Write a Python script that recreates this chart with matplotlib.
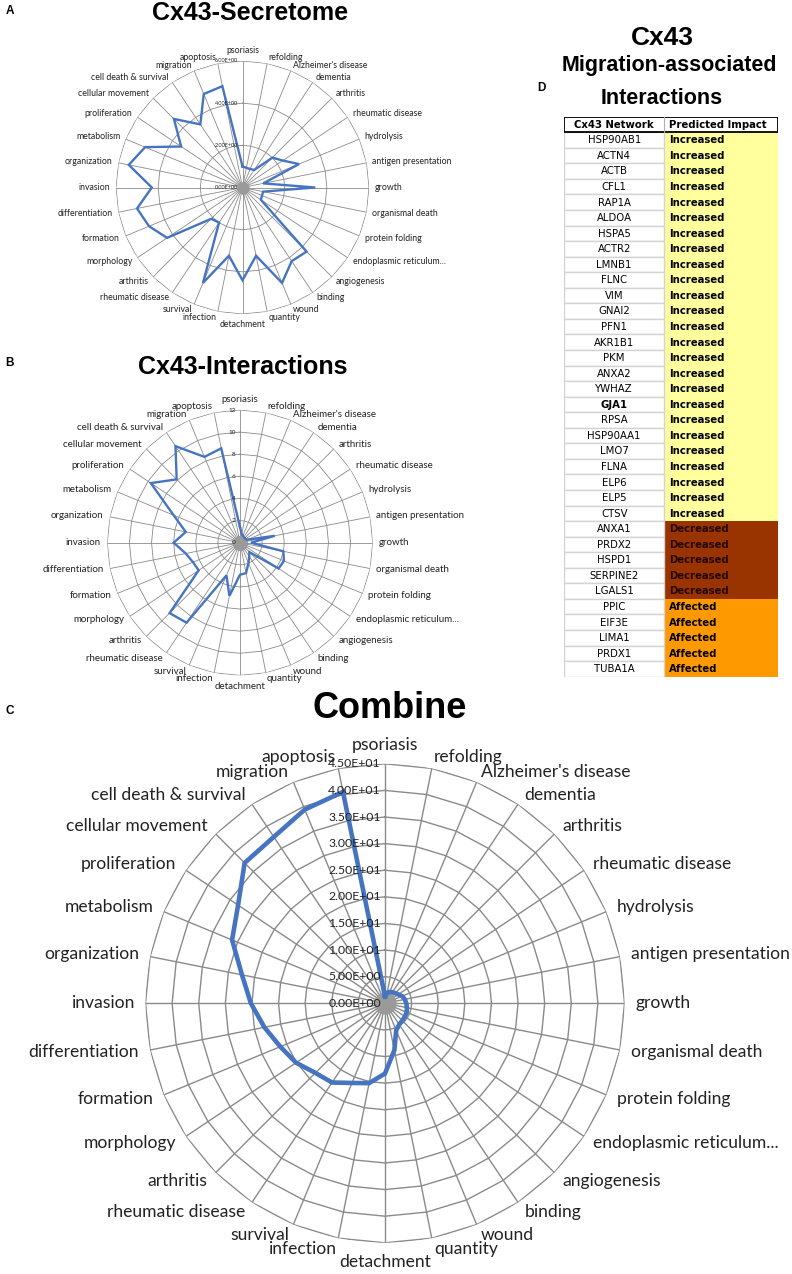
import numpy as np
import matplotlib
matplotlib.use("Agg")
import matplotlib.pyplot as plt
from matplotlib.patches import Rectangle

W, H = 792, 1274

CATEGORIES = ["psoriasis", "refolding", "Alzheimer's disease", "dementia", "arthritis",
              "rheumatic disease", "hydrolysis", "antigen presentation", "growth",
              "organismal death", "protein folding", "endoplasmic reticulum...",
              "angiogenesis", "binding", "wound", "quantity", "detachment", "infection",
              "survival", "rheumatic disease", "arthritis", "morphology", "formation",
              "differentiation", "invasion", "organization", "metabolism", "proliferation",
              "cellular movement", "cell death & survival", "migration", "apoptosis"]

SECRETOME = [1.0, 0.95, 0.95, 1.0, 2.0, 2.3, 2.9, 1.0, 3.45, 1.0, 1.0, 1.05,
             4.3, 4.2, 4.9, 3.3, 4.4, 3.3, 4.9, 2.0, 2.1, 4.3, 4.8, 5.1,
             4.3, 5.5, 5.0, 3.5, 4.6, 3.6, 4.8, 4.9]
INTERACTIONS = [1.4, 0.8, 0.7, 0.6, 0.6, 0.6, 0.7, 3.2, 1.0, 4.0, 4.3, 4.2,
                1.2, 1.5, 2.0, 2.8, 2.9, 4.9, 3.2, 8.7, 9.0, 4.5, 4.6, 5.0,
                6.0, 5.0, 6.5, 9.7, 8.1, 10.5, 8.4, 8.7]
COMBINE = [1.3, 2.0, 2.3, 2.5, 2.7, 3.0, 3.5, 3.8, 4.0, 4.2, 4.4, 4.5,
           4.6, 4.8, 5.5, 9.0, 13.2, 15.3, 16.2, 17.9, 18.5, 20.1, 21.3, 23.1,
           25.2, 27.4, 31.1, 33.2, 37.3, 37.6, 39.4, 40.5]

GENES = ["HSP90AB1", "ACTN4", "ACTB", "CFL1", "RAP1A", "ALDOA", "HSPA5", "ACTR2",
         "LMNB1", "FLNC", "VIM", "GNAI2", "PFN1", "AKR1B1", "PKM", "ANXA2", "YWHAZ",
         "GJA1", "RPSA", "HSP90AA1", "LMO7", "FLNA", "ELP6", "ELP5", "CTSV",
         "ANXA1", "PRDX2", "HSPD1", "SERPINE2", "LGALS1",
         "PPIC", "EIF3E", "LIMA1", "PRDX1", "TUBA1A"]
IMPACT = ["Increased"] * 25 + ["Decreased"] * 5 + ["Affected"] * 5

FILL = {"Increased": "#FFFF9E", "Decreased": "#993300", "Affected": "#FF9900"}
INK = {"Increased": "black", "Decreased": "#240800", "Affected": "black"}
GRID = "#8a8a8a"
BLUE = "#4674C1"
LABEL_FONT = ["Lato", "DejaVu Sans"]
TITLE_FONT = ["Liberation Sans", "DejaVu Sans"]


def px_axes(fig, x0, y0, x1, y1, **kw):
    return fig.add_axes([x0 / W, 1 - y1 / H, (x1 - x0) / W, (y1 - y0) / H], **kw)


def radar(fig, cx, cy, R, values, rmax, step, fmt, lab_fs, tick_fs, lw, grid_lw, dot):
    ax = px_axes(fig, cx - R, cy - R, cx + R, cy + R, projection="polar")
    ax.set_theta_zero_location("N")
    ax.set_theta_direction(-1)
    ax.set_ylim(0, rmax)
    ax.grid(False)
    ax.set_xticks([])
    ax.set_yticks([])
    ax.spines["polar"].set_visible(False)
    ax.patch.set_visible(False)

    n = len(CATEGORIES)
    th = np.arange(n) * 2 * np.pi / n
    thc = np.append(th, th[0])
    for t in th:
        ax.plot([t, t], [0, rmax], color=GRID, lw=grid_lw, zorder=1)
    levels = np.arange(step, rmax + step / 2, step)
    for lev in levels:
        ax.plot(thc, [lev] * (n + 1), color=GRID, lw=grid_lw, zorder=1)
    ax.plot([0], [0], "o", color="#9a9a9a", ms=dot, mec="none", zorder=2)

    vals = list(values) + [values[0]]
    ax.plot(thc, vals, color=BLUE, lw=lw, zorder=3, solid_joinstyle="miter")

    for lev in np.append(0, levels):
        ax.annotate(fmt(lev), xy=(0, lev), xytext=(-3, 0), textcoords="offset points",
                    ha="right", va="center", fontsize=tick_fs, family=LABEL_FONT,
                    color="#222222", zorder=4)

    for t, name in zip(th, CATEGORIES):
        s, c = np.sin(t), np.cos(t)
        if abs(s) < 1e-6:
            ha, va = "center", ("bottom" if c > 0 else "top")
        else:
            ha, va = ("left" if s > 0 else "right"), "center"
        ax.text(t, rmax * 1.047, name, ha=ha, va=va, fontsize=lab_fs,
                family=LABEL_FONT, color="#222222")
    return ax


fig = plt.figure(figsize=(W / 100, H / 100), dpi=100)

# panel A
radar(fig, 242.5, 187.5, 126.5, SECRETOME, 6, 2, lambda v: f"{v:.2E}",
      lab_fs=6.3, tick_fs=4.0, lw=1.7, grid_lw=0.6, dot=9)
# panel B
radar(fig, 240, 542.7, 132.7, INTERACTIONS, 12, 2, lambda v: f"{v:.0f}",
      lab_fs=7.0, tick_fs=4.6, lw=1.7, grid_lw=0.6, dot=11)
# panel C
radar(fig, 385, 1003.3, 239.5, COMBINE, 45, 5, lambda v: f"{v:.2E}",
      lab_fs=12.6, tick_fs=8.8, lw=3.3, grid_lw=1.0, dot=16)

fig.text(250 / W, 1 - 13.5 / H, "Cx43-Secretome", ha="center", va="center",
         fontsize=18, fontweight="bold", family=TITLE_FONT)
fig.text(243 / W, 1 - 367 / H, "Cx43-Interactions", ha="center", va="center",
         fontsize=18, fontweight="bold", family=TITLE_FONT)
fig.text(390 / W, 1 - 709 / H, "Combine", ha="center", va="center",
         fontsize=26, fontweight="bold", family=TITLE_FONT)
for lab, x, y in [("A", 10, 11), ("B", 10, 363), ("C", 10, 711), ("D", 541, 88)]:
    fig.text(x / W, 1 - y / H, lab, ha="center", va="center", fontsize=8.5,
             fontweight="bold", family=TITLE_FONT)

# panel D: table
fig.text(662 / W, 1 - 38 / H, "Cx43", ha="center", va="center",
         fontsize=19, fontweight="bold", family=TITLE_FONT)
fig.text(669 / W, 1 - 66 / H, "Migration-associated", ha="center", va="center",
         fontsize=15.5, fontweight="bold", family=TITLE_FONT)
fig.text(662 / W, 1 - 98 / H, "Interactions", ha="center", va="center",
         fontsize=15.5, fontweight="bold", family=TITLE_FONT)

tab = px_axes(fig, 564.3, 116.7, 778.3, 676.7)
tab.set_xlim(0, 1)
tab.set_ylim(len(GENES), -1)
tab.axis("off")
split = 0.466
for i, (g, imp) in enumerate(zip(GENES, IMPACT)):
    tab.add_patch(Rectangle((split, i), 1 - split, 1, fc=FILL[imp], ec="none", zorder=1))
    tab.add_patch(Rectangle((0, i), split, 1, fc="white", ec="#d3d3d3", lw=1.0, zorder=1))
    tab.text(split / 2, i + 0.52, g, ha="center", va="center", fontsize=7.3,
             fontweight="bold" if g == "GJA1" else "normal", family="DejaVu Sans", zorder=3)
    tab.text(split + 0.022, i + 0.52, imp, ha="left", va="center", fontsize=7.3,
             fontweight="bold", color=INK[imp], family="DejaVu Sans", zorder=3)
tab.add_patch(Rectangle((0, -1), 1, 1, fc="white", ec="black", lw=1.3, zorder=2))
tab.plot([split, split], [-1, 0], color="#b0b0b0", lw=0.8, zorder=3)
tab.text(split / 2, -0.48, "Cx43 Network", ha="center", va="center", fontsize=7.3,
         fontweight="bold", family="DejaVu Sans", zorder=4)
tab.text(split + 0.022, -0.48, "Predicted Impact", ha="left", va="center", fontsize=7.3,
         fontweight="bold", family="DejaVu Sans", zorder=4)

fig.savefig("out.png", dpi=100, facecolor="white")
